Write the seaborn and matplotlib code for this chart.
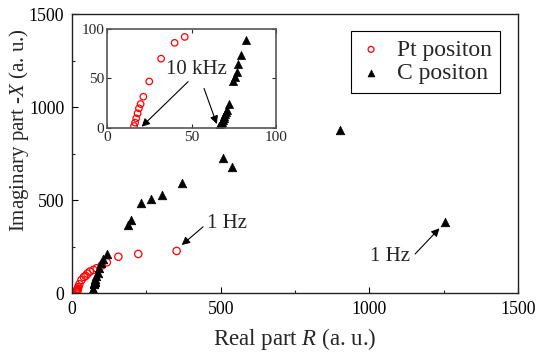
import numpy as np
import pandas as pd
import matplotlib
matplotlib.use("Agg")
import matplotlib.pyplot as plt
import seaborn as sns

# ---- data ----
pt_R = [16, 16.6, 17.3, 18.1, 18.9, 19.9, 21.5, 25, 32, 40, 46, 52, 60, 72, 83, 100, 117, 156, 223, 352]
pt_X = [2, 5.4, 9.8, 14.8, 19.9, 24.2, 31.6, 47, 70, 86, 92, 104, 115, 124, 133, 148, 165, 195, 210, 226]

c_R = [66, 66.5, 67, 67.5, 68, 68.5, 69, 69.5, 70, 70.5, 71, 72, 74.8, 75.7, 76.7, 77.5, 79, 82,
       86, 92, 98, 105, 118, 188, 198, 232, 266, 303, 370, 508, 538, 900, 1255]
c_X = [0.5, 2, 3.5, 5, 6.5, 8, 10, 12, 14, 16, 18, 24, 47, 52, 57, 65, 74, 89,
       110, 135, 160, 185, 210, 366, 392, 484, 505, 527, 591, 726, 677, 875, 382]

series_names = ["Pt positon", "C positon"]
main_ticks = [0, 500, 1000, 1500]
inset_ticks = [0, 50, 100]

pt_df = pd.DataFrame({"R": pt_R, "X": pt_X})
c_df = pd.DataFrame({"R": c_R, "X": c_X})

sns.set_style("ticks")
plt.rcParams["font.family"] = ["Liberation Serif", "DejaVu Serif"]
plt.rcParams["mathtext.fontset"] = "custom"
plt.rcParams["mathtext.rm"] = "Liberation Serif"
plt.rcParams["mathtext.it"] = "Liberation Serif:italic"
plt.rcParams["xtick.direction"] = "in"
plt.rcParams["ytick.direction"] = "in"

fig = plt.figure(figsize=(5.38, 3.54), dpi=100)
ax = fig.add_axes([0.1338, 0.1723, 0.829, 0.788])

def draw(axis, s_circ, s_tri, legend=True):
    sns.scatterplot(data=pt_df, x="R", y="X", ax=axis, marker="o", s=s_circ,
                    facecolors="none", edgecolor="red", linewidth=0.9,
                    label=series_names[0] if legend else None, legend=False)
    sns.scatterplot(data=c_df, x="R", y="X", ax=axis, marker="^", s=s_tri,
                    color="black", edgecolor="black", linewidth=0.5,
                    label=series_names[1] if legend else None, legend=False)

draw(ax, 28, 38)
ax.set_xlim(0, 1500)
ax.set_ylim(0, 1500)
ax.set_xticks(main_ticks)
ax.set_yticks(main_ticks)
ax.set_xticks([250, 750, 1250], minor=True)
ax.set_yticks([250, 750, 1250], minor=True)
ax.tick_params(which="major", length=4, width=0.8, labelsize=12.8, colors="black", pad=5.5)
ax.tick_params(which="minor", length=2.5, width=0.8)
for sp in ax.spines.values():
    sp.set_color("#222222")
    sp.set_linewidth(1.0)
ax.set_xlabel(r"Real part $\mathit{R}$ (a. u.)", fontsize=16.5)
ax.set_ylabel(r"Imaginary part -$\mathit{X}$ (a. u.)", fontsize=15)
ax.xaxis.set_label_coords(0.5, -0.118)
ax.yaxis.set_label_coords(-0.092, 0.584)

leg = ax.legend(loc="upper right", bbox_to_anchor=(0.96, 0.94), borderaxespad=0,
                fancybox=False, edgecolor="black", framealpha=1, fontsize=17,
                handlelength=1.0, handletextpad=0.6, borderpad=0.35, labelspacing=0.1,
                markerscale=0.8)
leg.get_frame().set_linewidth(0.8)

arrow_kw = dict(arrowstyle="-|>", color="black", lw=0.8, shrinkA=0, shrinkB=0,
                mutation_scale=12)
ax.text(520, 375, "1 Hz", fontsize=15, ha="center", va="center")
ax.annotate("", xy=(369, 258), xytext=(441, 356), arrowprops=arrow_kw)
ax.text(1070, 195, "1 Hz", fontsize=15, ha="center", va="center")
ax.annotate("", xy=(1236, 348), xytext=(1154, 210), arrowprops=arrow_kw)

# ---- inset ----
ins = fig.add_axes([0.1989, 0.6384, 0.3141, 0.2797])
draw(ins, 22, 34, legend=False)
ins.set_xlim(0, 100)
ins.set_ylim(0, 100)
ins.set_xticks(inset_ticks)
ins.set_yticks(inset_ticks)
ins.set_xlabel("")
ins.set_ylabel("")
ins.tick_params(which="major", length=3, width=0.8, labelsize=11, pad=2,
                top=True, right=True)
for sp in ins.spines.values():
    sp.set_color("#555555")
    sp.set_linewidth(1.2)
ins.text(53, 59, "10 kHz", fontsize=15, ha="center", va="center")
ins.annotate("", xy=(20.5, 1.3), xytext=(48, 46.8), arrowprops=arrow_kw)
ins.annotate("", xy=(65, 4), xytext=(57.4, 40), arrowprops=arrow_kw)

fig.savefig("out.png", dpi=100)
